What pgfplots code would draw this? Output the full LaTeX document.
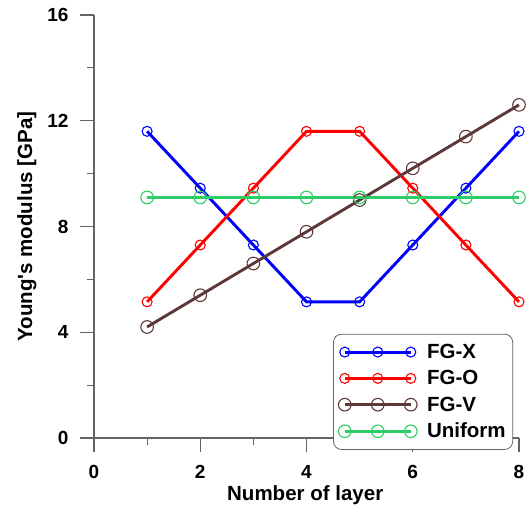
\documentclass[border=0pt]{standalone}
\usepackage{pgfplots}
\pgfplotsset{compat=1.18}
\usepackage{fontspec}
\newfontfamily\arial{Liberation Sans}
\definecolor{fgx}{RGB}{0,0,255}
\definecolor{fgo}{RGB}{255,0,0}
\definecolor{fgv}{RGB}{94,56,56}
\definecolor{unif}{RGB}{46,204,102}
\definecolor{axisgray}{RGB}{100,100,100}
\begin{document}
\begin{tikzpicture}
\begin{axis}[
  scale only axis, width=425pt, height=423pt,
  xmin=0, xmax=8, ymin=0, ymax=16,
  xtick={0,2,4,6,8}, ytick={0,4,8,12,16},
  minor xtick={1,3,5,7}, minor ytick={2,6,10,14},
  axis x line*=bottom, axis y line*=left,
  axis line style={draw=axisgray, line width=1.2pt, -},
  tick align=outside, major tick length=14pt, minor tick length=7pt,
  every tick/.style={axisgray, line width=1.2pt},
  /pgf/number format/assume math mode=true,
  tick label style={font=\arial\bfseries\fontsize{19}{22}\selectfont},
  xticklabel style={yshift=-10pt},
  yticklabel style={xshift=-8pt},
  xlabel={Number of layer}, ylabel={Young's modulus [GPa]},
  every axis x label/.style={at={(axis description cs:0.497,-0.1466)}, anchor=base,
    font=\arial\bfseries\fontsize{20.5}{24}\selectfont},
  every axis y label/.style={at={(axis description cs:-0.158,0.5)}, anchor=center, rotate=90,
    font=\arial\bfseries\fontsize{20.5}{24}\selectfont},
  clip=false,
  legend style={at={(axis description cs:0.986,-0.028)}, anchor=south east,
    font=\arial\bfseries\fontsize{20.5}{24}\selectfont,
    rounded corners=8pt, draw=axisgray, line width=0.8pt,
    inner xsep=5pt, inner ysep=8pt, row sep=6.5pt, fill=white,
    /tikz/every odd column/.append style={column sep=8pt}},
  legend cell align=left,
  legend image code/.code={\draw[#1,mark repeat=1,mark phase=1] plot coordinates {(0pt,0pt) (33pt,0pt) (66pt,0pt)};},
  every axis plot/.append style={line width=2.9pt, mark=o, mark options={line width=1.1pt, solid}},
]
\addplot[fgx, mark size=5pt] coordinates {(1,11.6)(2,9.45)(3,7.3)(4,5.15)(5,5.15)(6,7.3)(7,9.45)(8,11.6)};
\addplot[fgo, mark size=5pt] coordinates {(1,5.15)(2,7.3)(3,9.45)(4,11.6)(5,11.6)(6,9.45)(7,7.3)(8,5.15)};
\addplot[fgv, mark size=6.3pt] coordinates {(1,4.2)(2,5.4)(3,6.6)(4,7.8)(5,9.0)(6,10.2)(7,11.4)(8,12.6)};
\addplot[unif, mark size=6.3pt] coordinates {(1,9.1)(2,9.1)(3,9.1)(4,9.1)(5,9.1)(6,9.1)(7,9.1)(8,9.1)};
\legend{FG-X,FG-O,FG-V,Uniform}
\end{axis}
\path[use as bounding box] (-94pt,-71pt) rectangle (438pt,438pt);
\end{tikzpicture}
\end{document}
